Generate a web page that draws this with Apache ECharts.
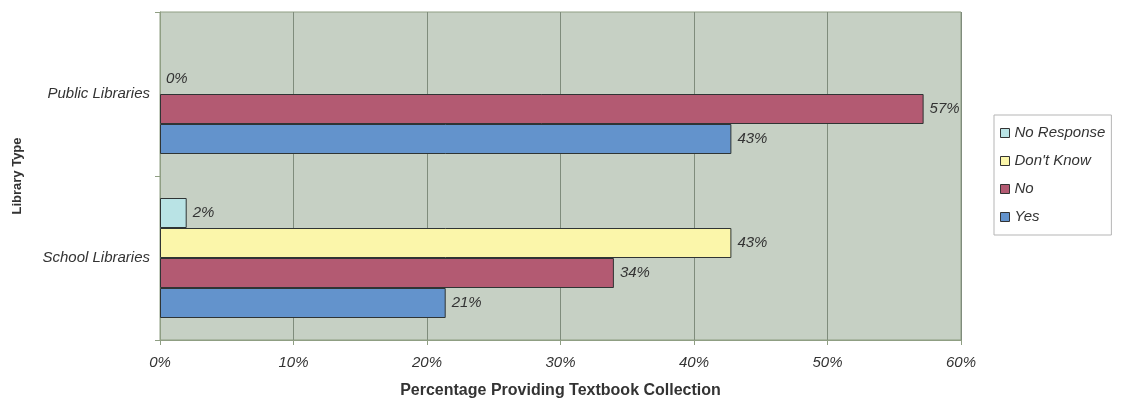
<!DOCTYPE html>
<html>
<head>
<meta charset="utf-8">
<script src="https://cdn.jsdelivr.net/npm/echarts@6/dist/echarts.min.js"></script>
<style>
  html, body { margin: 0; padding: 0; background: #fff; }
  #chart { width: 1121px; height: 404px; }
</style>
</head>
<body>
<div id="chart"></div>
<script>
// categories, bottom to top
var categories = ['School Libraries', 'Public Libraries'];
// values in percent (null = no bar, no label)
var yesValues = [21.4, 42.8];
var noValues = [34.0, 57.2];
var dontKnowValues = [42.8, 0];
var noResponseValues = [2.0, null];
var legendOrder = ['No Response', "Don't Know", 'No', 'Yes'];

var font = 'Liberation Sans, Arial, sans-serif';

function makeSeries(name, data, color) {
    return {
        name: name,
        type: 'bar',
        // zero-length bars get no outline, only the label
        data: data.map(function (v) {
            return v === 0 ? { value: v, itemStyle: { borderWidth: 0 } } : v;
        }),
        barWidth: 30,
        barGap: '0%',
        itemStyle: { color: color, borderColor: '#2f3434', borderWidth: 1 },
        label: {
            show: true,
            position: 'right',
            distance: 6,
            fontFamily: font,
            fontStyle: 'italic',
            fontSize: 15,
            color: '#333',
            formatter: function (p) {
                return p.value == null ? '' : Math.round(p.value) + '%';
            }
        }
    };
}

var chart = echarts.init(document.getElementById('chart'));
chart.setOption({
    animation: false,
    backgroundColor: '#ffffff',
    textStyle: { fontFamily: font },
    grid: {
        left: 160, right: 160, top: 12, bottom: 62,
        show: true,
        backgroundColor: '#c6d0c4',
        borderColor: '#8f9e83',
        borderWidth: 1
    },
    legend: {
        orient: 'vertical',
        left: 994,
        top: 115,
        data: legendOrder,
        icon: 'rect',
        itemWidth: 9,
        itemHeight: 9,
        itemGap: 10,
        padding: [9, 6, 9, 6],
        backgroundColor: '#ffffff',
        borderColor: '#b5b5b5',
        borderWidth: 1,
        textStyle: { fontFamily: font, fontStyle: 'italic', fontSize: 15, color: '#333', lineHeight: 18 },
        itemStyle: { borderColor: '#333', borderWidth: 1 }
    },
    xAxis: {
        type: 'value',
        min: 0,
        max: 60,
        interval: 10,
        name: 'Percentage Providing Textbook Collection',
        nameLocation: 'middle',
        nameGap: 43,
        nameTextStyle: { fontFamily: font, fontWeight: 'bold', fontSize: 16, color: '#333' },
        axisLine: { show: true, lineStyle: { color: '#8f9e83' } },
        axisTick: { show: true, length: 5, lineStyle: { color: '#8f9e83' } },
        axisLabel: {
            fontFamily: font, fontStyle: 'italic', fontSize: 15, color: '#333', margin: 15,
            formatter: '{value}%'
        },
        splitLine: { show: true, lineStyle: { color: '#7f8c7c', width: 1 } }
    },
    yAxis: {
        type: 'category',
        data: categories,
        name: 'Library Type',
        nameLocation: 'middle',
        nameGap: 136,
        nameTextStyle: { fontFamily: font, fontWeight: 'bold', fontSize: 13, color: '#333' },
        axisLine: { show: true, lineStyle: { color: '#8f9e83' } },
        axisTick: { show: true, length: 5, lineStyle: { color: '#8f9e83' } },
        axisLabel: { fontFamily: font, fontStyle: 'italic', fontSize: 15, color: '#333', margin: 10 }
    },
    // with a category y axis the first series sits at the top of each group
    series: [
        makeSeries('No Response', noResponseValues, '#b9e3e5'),
        makeSeries("Don't Know", dontKnowValues, '#fbf6aa'),
        makeSeries('No', noValues, '#b35a72'),
        makeSeries('Yes', yesValues, '#6393cc')
    ]
});
</script>
</body>
</html>
